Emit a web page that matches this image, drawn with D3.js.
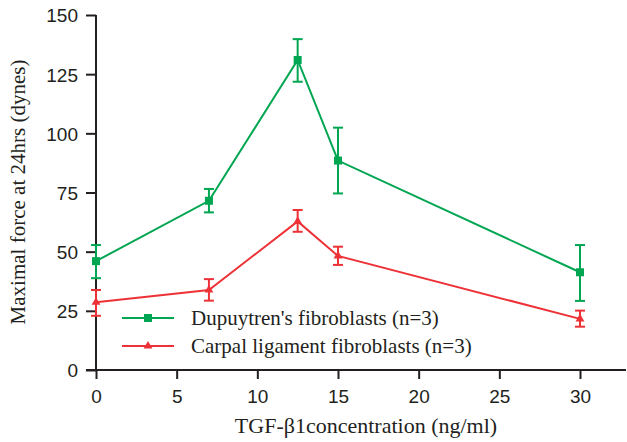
<!DOCTYPE html>
<html>
<head>
<meta charset="utf-8">
<script src="https://cdn.jsdelivr.net/npm/d3@7"></script>
<style>
  body { margin: 0; background: #fff; }
  svg { display: block; }
  .tick text { font-family: "Liberation Sans", Arial, sans-serif; font-size: 19px; fill: #231f20; }
  .serif { font-family: "Liberation Serif", "Times New Roman", serif; fill: #231f20; }
</style>
</head>
<body>
<svg id="chart" width="627" height="442"></svg>
<script>
// concentrations (ng/ml)
const conc = [0, 7, 12.5, 15, 30];
// Dupuytren's fibroblasts
const dupMean = [46, 71.5, 131, 88.5, 41.3];
const dupHi = [52.8, 76.5, 139.8, 102.4, 52.8];
const dupLo = [38.8, 66.6, 121.8, 74.6, 29.2];
// Carpal ligament fibroblasts
const carMean = [28.6, 33.8, 62.8, 48.2, 21.6];
const carHi = [33.8, 38.4, 67.6, 52.1, 25.1];
const carLo = [22.9, 29.3, 58.4, 44.4, 18.3];

const xTicks = [0, 5, 10, 15, 20, 25, 30];
const yTicks = [0, 25, 50, 75, 100, 125, 150];

const series = [
  { name: "Dupuytren's fibroblasts (n=3)", color: "#00a651", mark: "square", mean: dupMean, hi: dupHi, lo: dupLo },
  { name: "Carpal ligament fibroblasts (n=3)", color: "#ed3237", mark: "triangle", mean: carMean, hi: carHi, lo: carLo },
];

const svg = d3.select("#chart");
const x = d3.scaleLinear().domain([0, 30]).range([96, 580]);
const y = d3.scaleLinear().domain([0, 150]).range([370, 15]);
const axisColor = "#231f20";

// x axis: line runs past both ends
svg.append("line")
  .attr("x1", 86).attr("x2", 626)
  .attr("y1", y(0)).attr("y2", y(0))
  .attr("stroke", axisColor).attr("stroke-width", 2);
const gx = svg.append("g").attr("transform", `translate(0,${y(0)})`)
  .call(d3.axisBottom(x).tickValues(xTicks).tickSize(9).tickPadding(11));
gx.select(".domain").remove();
gx.selectAll(".tick line").attr("stroke", axisColor).attr("stroke-width", 2);

const gy = svg.append("g").attr("transform", `translate(${x(0)},0)`)
  .call(d3.axisLeft(y).tickValues(yTicks).tickSize(10).tickPadding(8));
gy.select(".domain").attr("stroke", axisColor).attr("stroke-width", 2)
  .attr("d", `M0,${y(150)}V${y(0)}`);
gy.selectAll(".tick line").attr("stroke", axisColor).attr("stroke-width", 2);
gy.selectAll(".tick text").attr("dy", "0.36em");

// titles
svg.append("text").attr("class", "serif")
  .attr("x", 366).attr("y", 433)
  .attr("text-anchor", "middle").attr("font-size", 22)
  .text("TGF-β1concentration (ng/ml)");
svg.append("text").attr("class", "serif")
  .attr("transform", "translate(25,192) rotate(-90)")
  .attr("text-anchor", "middle").attr("font-size", 21)
  .text("Maximal force at 24hrs (dynes)");

const line = d3.line().x((d) => x(d.c)).y((d) => y(d.m));
const sq = d3.symbol(d3.symbolSquare, 64);
const tri = d3.symbol(d3.symbolTriangle, 34);

series.forEach((s) => {
  const pts = conc.map((c, i) => ({ c, m: s.mean[i], hi: s.hi[i], lo: s.lo[i] }));
  const g = svg.append("g");
  g.append("path").datum(pts)
    .attr("d", line).attr("fill", "none")
    .attr("stroke", s.color).attr("stroke-width", 2);
  const eb = g.selectAll(".eb").data(pts).join("g");
  eb.append("line")
    .attr("x1", (d) => x(d.c)).attr("x2", (d) => x(d.c))
    .attr("y1", (d) => y(d.hi)).attr("y2", (d) => y(d.lo))
    .attr("stroke", s.color).attr("stroke-width", 2);
  [(d) => y(d.hi), (d) => y(d.lo)].forEach((fy) => {
    eb.append("line")
      .attr("x1", (d) => x(d.c) - 5).attr("x2", (d) => x(d.c) + 5)
      .attr("y1", fy).attr("y2", fy)
      .attr("stroke", s.color).attr("stroke-width", 2);
  });
  g.selectAll(".mk").data(pts).join("path")
    .attr("transform", (d) => `translate(${x(d.c)},${y(d.m)})`)
    .attr("d", s.mark === "square" ? sq : tri)
    .attr("fill", s.color);
});

// legend
const leg = svg.append("g");
series.forEach((s, i) => {
  const ly = 318 + i * 28;
  leg.append("line").attr("x1", 122).attr("x2", 174).attr("y1", ly).attr("y2", ly)
    .attr("stroke", s.color).attr("stroke-width", 2);
  leg.append("path").attr("transform", `translate(148,${ly})`)
    .attr("d", s.mark === "square" ? sq : tri).attr("fill", s.color);
  leg.append("text").attr("class", "serif")
    .attr("x", 191).attr("y", ly + 7).attr("font-size", 21)
    .text(s.name);
});
</script>
</body>
</html>
